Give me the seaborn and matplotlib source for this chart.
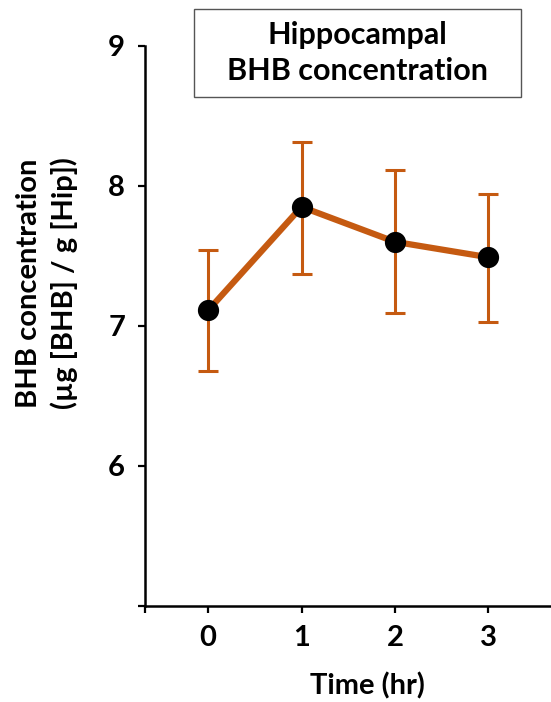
import matplotlib
matplotlib.use("Agg")
import matplotlib.pyplot as plt
import seaborn as sns
import pandas as pd
from matplotlib.patches import Rectangle

# values
time_hr = [0, 1, 2, 3]
bhb_mean = [7.11, 7.85, 7.60, 7.49]
bhb_lower = [6.68, 7.37, 7.09, 7.03]
bhb_upper = [7.54, 8.31, 8.11, 7.94]

df = pd.DataFrame({"time": time_hr, "bhb": bhb_mean})
err_lo = [m - l for m, l in zip(bhb_mean, bhb_lower)]
err_hi = [u - m for m, u in zip(bhb_mean, bhb_upper)]

sns.set_style("ticks")
plt.rcParams['font.family'] = ['Lato', 'DejaVu Sans']
plt.rcParams['font.weight'] = 'bold'
plt.rcParams['text.color'] = 'black'
plt.rcParams['xtick.color'] = 'black'
plt.rcParams['ytick.color'] = 'black'

orange = "#C55A11"

fig = plt.figure(figsize=(5.51, 7.02), dpi=100)
ax = fig.add_axes([0.2623, 0.137, 0.7377, 0.7977])

ax.errorbar(df["time"], df["bhb"], yerr=[err_lo, err_hi], fmt="none",
            ecolor=orange, elinewidth=2.2, capsize=7, capthick=2.2, zorder=2)
sns.lineplot(data=df, x="time", y="bhb", ax=ax, color=orange, linewidth=4.5,
             zorder=3)
sns.scatterplot(data=df, x="time", y="bhb", ax=ax, color="black", s=200,
                edgecolor="black", zorder=4)

ax.set_xlim(-0.68, 3.67)
ax.set_ylim(5, 9)
ax.set_xticks([-0.68, 0, 1, 2, 3])
ax.set_xticklabels(["", "0", "1", "2", "3"])
ax.set_yticks([5, 6, 7, 8, 9])
ax.set_yticklabels(["", "6", "7", "8", "9"])
ax.tick_params(axis="both", labelsize=21, width=1.6, length=5, color="black",
               labelcolor="black", pad=9)
for lab in ax.get_xticklabels() + ax.get_yticklabels():
    lab.set_fontweight("bold")
sns.despine(ax=ax)
ax.spines["left"].set_linewidth(1.8)
ax.spines["bottom"].set_linewidth(1.8)
ax.spines["left"].set_color("black")
ax.spines["bottom"].set_color("black")
ax.set_xlabel("")
ax.set_ylabel("")

fig.text(0.666, 1 - 686 / 702, "Time (hr)", ha="center", va="center",
         fontsize=21, fontweight="bold", color="black")
fig.text(0.085, 1 - 283 / 702, "BHB concentration\n(µg [BHB] / g [Hip])",
         rotation=90, ha="center", va="center", fontsize=21,
         fontweight="bold", multialignment="center", linespacing=1.4,
         color="black")

box = Rectangle((194 / 551, 1 - 97 / 702), (521 - 194) / 551, (97 - 9) / 702,
                transform=fig.transFigure, fill=False, edgecolor="#555555",
                linewidth=1.0)
fig.patches.append(box)
fig.text((194 + 521) / 2 / 551, 1 - 53 / 702,
         "Hippocampal\nBHB concentration", ha="center", va="center",
         fontsize=22, fontweight="bold", linespacing=1.35, color="black")

fig.savefig("out.png", dpi=100)
